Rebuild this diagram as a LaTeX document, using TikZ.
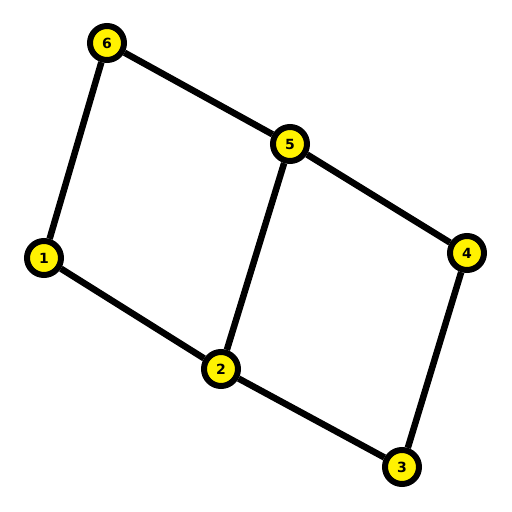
\documentclass[tikz,border=0pt]{standalone}
\usepackage{fontspec}
\setsansfont{DejaVu Sans}
\begin{document}
\begin{tikzpicture}[x=1pt,y=-1pt,
  vtx/.style={circle,draw=black,fill=yellow,line width=6pt,minimum size=34pt,inner sep=0pt,font=\sffamily\bfseries\fontsize{14}{14}\selectfont},
  edge/.style={line width=6.5pt,black}]
\useasboundingbox (0,0) rectangle (512,512);
\node[vtx] (n6) at (107,43) {6};
\node[vtx] (n5) at (290,144) {5};
\node[vtx] (n4) at (467,253) {4};
\node[vtx] (n1) at (44,258) {1};
\node[vtx] (n2) at (221,369) {2};
\node[vtx] (n3) at (402,467) {3};
\draw[edge] (n6) -- (n5);
\draw[edge] (n5) -- (n4);
\draw[edge] (n6) -- (n1);
\draw[edge] (n5) -- (n2);
\draw[edge] (n4) -- (n3);
\draw[edge] (n1) -- (n2);
\draw[edge] (n2) -- (n3);
\end{tikzpicture}
\end{document}
